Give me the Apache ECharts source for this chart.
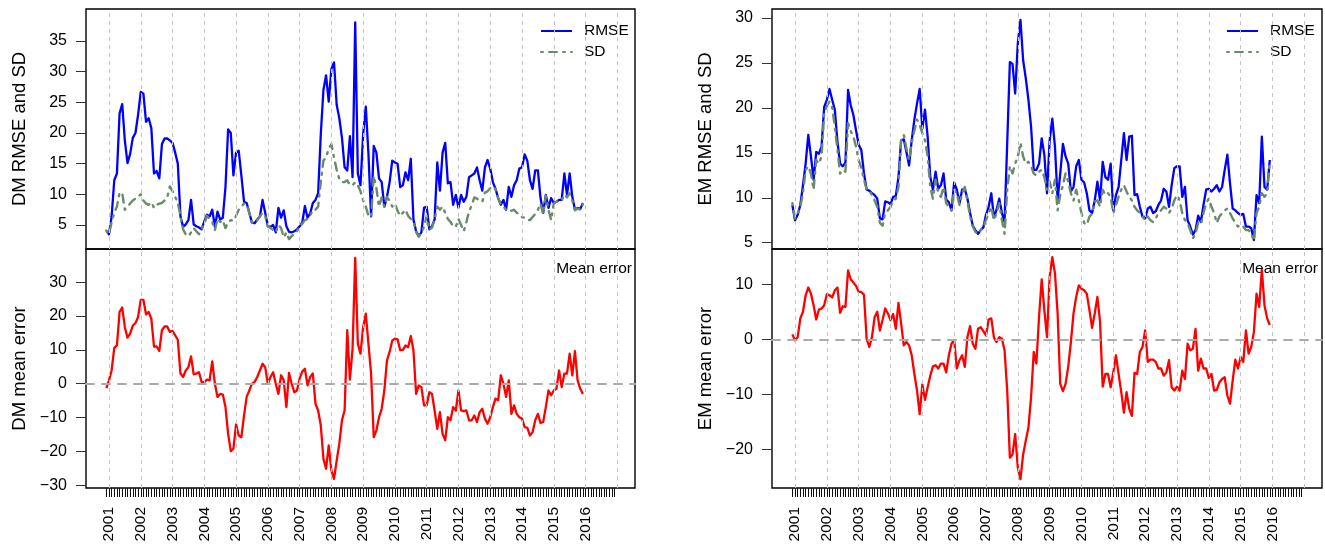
<!DOCTYPE html>
<html><head><meta charset="utf-8">
<script src="https://cdn.jsdelivr.net/npm/echarts@6/dist/echarts.min.js"></script>
<style>html,body{margin:0;padding:0;background:#fff}#c{width:1325px;height:547px}</style>
</head><body><div id="c"></div>
<script>
// Monthly observations (index 0 = first month shown)
const dmRmse = [4.1,3.5,6.4,12.3,13.4,23.2,24.7,18.7,15.1,16.6,
19.2,20.0,23.0,26.7,26.4,21.8,22.4,20.8,13.4,13.8,
12.6,18.2,19.1,19.1,18.8,18.4,16.8,15.0,6.4,4.7,
5.1,5.8,9.1,5.1,4.8,4.6,4.3,5.6,6.7,6.4,
7.5,4.7,7.2,5.9,6.2,11.2,20.6,20.0,13.1,16.8,
17.1,13.1,8.8,8.6,7.0,5.4,5.3,5.9,6.4,9.1,
7.0,4.8,4.7,5.0,3.8,7.8,6.2,7.4,4.8,3.9,
3.8,4.0,4.3,4.8,5.4,8.1,6.2,6.9,8.6,9.1,
10.2,19.8,27.0,29.4,25.1,30.4,31.5,24.6,22.4,19.2,
14.4,13.9,19.5,12.8,38.0,13.4,11.5,19.8,24.3,16.6,
6.4,17.9,16.8,12.6,12.0,8.0,9.6,12.0,15.5,15.2,
15.0,11.2,11.5,13.6,12.3,15.8,5.9,4.0,3.2,3.8,
7.8,8.0,4.3,4.8,5.9,15.2,10.6,16.8,18.4,11.8,
12.0,8.3,9.9,7.8,9.9,8.8,9.6,12.8,13.1,13.4,
14.4,12.3,10.6,14.4,15.6,14.2,12.0,10.9,9.4,8.3,
9.1,7.5,11.2,9.6,11.5,12.3,14.2,14.4,16.5,15.5,
12.3,10.9,13.9,13.9,9.4,7.0,9.9,7.8,9.4,8.6,
8.8,9.1,9.1,13.4,9.9,13.4,9.6,7.5,7.8,7.6,
8.6];
const dmSd = [4.1,3.5,5.5,7.0,8.0,10.3,10.2,7.5,8.0,8.5,
9.0,9.3,9.7,10.0,9.0,8.5,8.3,8.7,7.8,8.3,
8.5,8.6,9.0,9.5,11.3,10.5,9.6,8.6,6.5,4.3,
3.5,3.2,3.8,4.5,4.0,3.5,4.3,5.2,6.5,6.0,
5.5,4.2,6.0,5.5,5.8,4.5,5.5,5.8,5.7,6.5,
7.5,8.0,8.5,8.3,7.0,5.4,5.3,5.8,6.4,7.0,
6.5,4.8,4.5,4.2,3.8,5.0,4.5,3.0,3.8,2.7,
3.2,3.5,4.0,4.8,5.2,5.8,6.0,6.5,7.5,7.5,
8.0,12.0,15.5,16.0,17.5,18.2,16.0,14.0,12.5,12.0,
12.0,12.3,11.5,11.5,12.0,11.5,10.5,9.0,8.0,6.5,
6.3,13.0,11.0,8.0,9.5,8.0,9.6,9.0,8.0,8.5,
7.3,6.5,7.0,7.5,6.5,6.0,5.5,3.9,3.1,3.7,
4.7,6.5,4.2,4.6,5.9,8.0,7.5,8.0,7.0,6.0,
5.5,4.8,4.7,6.0,5.0,4.0,5.5,7.2,8.2,9.5,
9.3,9.0,8.8,10.3,10.5,11.0,11.3,10.8,9.4,8.3,
8.0,7.5,7.5,7.3,7.5,7.0,6.8,6.3,6.2,5.9,
5.8,6.3,6.8,7.5,8.5,6.8,9.8,7.5,5.8,8.5,
8.8,9.0,9.0,10.0,9.5,10.2,9.0,7.4,7.7,7.5,
8.4];
const dmMe = [-1.3,1.0,4.0,10.6,11.3,21.2,22.5,16.7,13.6,14.8,
17.2,17.9,19.7,24.8,24.8,20.5,21.2,19.2,11.0,11.0,
9.7,15.8,16.9,16.9,15.3,15.6,14.3,13.0,3.0,2.0,
3.9,4.9,8.1,2.8,3.0,3.4,0.5,0.5,1.2,1.0,
6.6,0.0,-3.9,-3.0,-3.2,-6.9,-14.8,-19.9,-19.2,-12.0,
-15.3,-15.8,-9.4,-3.9,-2.0,0.0,0.5,2.0,3.9,5.9,
4.9,0.0,2.0,3.4,0.0,-3.0,2.5,1.0,-6.9,3.2,
0.0,-2.5,-2.0,1.5,3.6,4.4,-0.5,2.0,3.0,-5.9,
-7.9,-12.3,-22.2,-25.1,-18.2,-25.6,-28.1,-22.7,-17.7,-10.8,
-7.9,15.8,1.2,10.3,37.2,11.8,8.9,16.7,20.7,11.8,
3.0,-15.8,-13.8,-9.9,-7.4,-2.0,6.9,9.4,12.8,13.3,
13.1,9.9,10.0,11.3,10.8,14.1,9.9,-3.0,-0.5,-1.0,
-6.4,-6.4,-2.5,-3.0,-7.9,-13.3,-8.4,-14.8,-16.7,-9.9,
-10.8,-6.9,-7.9,-2.0,-7.9,-8.1,-7.9,-10.8,-10.8,-9.4,
-11.3,-8.4,-7.4,-10.3,-11.8,-9.9,-6.9,-4.4,-4.9,2.5,
0.0,-3.9,1.0,-8.9,-6.4,-8.9,-9.9,-10.3,-12.8,-13.0,
-15.3,-14.3,-10.8,-8.9,-11.6,-11.3,-6.9,-2.0,-3.4,-2.0,
-1.5,3.9,-1.0,3.0,3.0,8.9,2.5,9.6,1.0,-1.5,
-3.0];
const emRmse = [9.2,7.5,8.1,9.2,11.4,13.8,17.0,14.6,12.0,15.1,
14.9,15.7,20.1,20.9,22.1,20.9,19.8,16.2,13.8,13.5,
13.9,22.0,20.3,19.2,17.5,15.9,15.3,12.7,10.9,10.8,
10.5,10.3,9.9,7.7,7.6,9.6,9.5,9.3,10.1,10.2,
12.3,16.4,16.5,15.1,13.6,16.4,18.7,20.5,22.1,17.7,
19.8,16.8,12.3,10.9,12.9,11.0,11.4,12.7,9.8,9.5,
8.6,11.7,10.9,9.4,10.9,11.0,9.9,8.3,6.9,6.4,
6.0,6.4,6.7,8.1,9.0,10.5,7.8,8.7,9.9,8.3,
7.3,16.1,25.1,24.9,21.6,27.2,29.8,25.3,23.3,20.9,
17.9,13.1,13.1,13.8,16.6,14.8,10.5,16.4,18.8,15.7,
9.8,12.7,16.0,14.6,13.8,10.7,11.2,13.5,14.2,12.0,
11.7,10.5,8.6,8.3,9.7,11.8,9.7,14.0,12.3,12.0,
13.8,8.6,10.3,11.2,14.2,17.2,14.2,16.8,16.9,10.3,
10.4,9.0,7.9,7.7,8.8,9.0,8.3,8.5,9.2,9.7,
11.0,10.7,9.0,11.4,13.3,13.5,13.5,10.1,11.2,7.5,
6.8,5.9,6.4,8.0,7.3,9.2,10.9,11.0,10.7,11.0,
11.4,10.7,11.2,13.1,14.8,11.6,8.8,8.6,8.3,8.1,
8.2,6.8,6.8,6.6,5.3,10.3,9.4,16.8,11.2,10.9,
14.2];
const emSd = [9.4,7.7,8.3,9.0,10.5,13.1,13.5,12.7,10.9,14.2,
13.8,14.6,19.4,20.2,20.7,20.1,17.9,15.3,12.7,13.1,
12.9,18.3,17.4,16.8,15.7,14.2,13.3,12.0,10.9,10.8,
10.3,9.7,9.0,7.2,6.9,8.3,8.6,9.0,9.7,9.9,
11.2,16.4,17.0,15.5,14.2,16.1,17.5,18.7,18.1,17.2,
16.4,14.6,11.2,9.9,12.0,10.5,10.1,11.2,9.4,9.0,
8.6,10.9,10.5,9.2,10.5,11.2,9.7,7.9,6.8,6.2,
6.0,6.4,6.7,7.5,8.3,9.0,7.5,8.3,9.4,7.5,
6.0,10.9,13.5,12.7,13.8,14.6,16.1,14.6,13.8,14.0,
13.5,12.7,12.5,12.9,13.1,12.3,10.9,11.8,10.5,12.0,
8.6,10.3,11.4,12.7,11.8,10.5,9.7,10.9,9.7,8.3,
7.2,7.0,7.9,8.2,9.6,9.7,9.0,10.9,10.3,10.5,
10.1,8.3,9.2,10.1,10.9,11.4,10.7,10.1,9.7,9.0,
8.6,8.3,7.9,7.5,7.9,7.5,7.3,7.7,8.3,8.6,
9.0,8.8,8.3,8.8,9.7,10.3,9.7,8.3,7.5,7.2,
6.4,5.5,6.0,7.2,7.0,8.3,9.4,9.9,9.0,8.3,
7.2,7.9,8.3,8.6,8.8,8.3,7.7,7.2,6.8,7.0,
6.8,6.4,6.4,6.0,5.2,8.3,9.0,10.5,10.1,10.5,
14.2];
const emMe = [0.9,-0.2,0.4,3.8,5.0,8.0,9.4,8.3,6.2,3.6,
5.4,5.6,6.2,8.2,8.0,7.6,8.9,9.4,4.8,6.0,
5.9,12.5,10.9,10.3,9.7,8.6,8.6,8.1,0.1,-1.4,
0.4,4.0,5.0,1.6,3.5,5.6,4.7,3.5,4.6,1.9,
6.6,2.9,-1.1,-0.5,-1.1,-2.9,-6.3,-9.3,-13.6,-8.2,
-11.0,-8.7,-6.6,-4.9,-4.7,-5.3,-4.4,-4.4,-6.0,-2.9,
-0.8,-0.1,-5.3,-3.8,-2.9,-5.0,0.4,2.4,-0.8,-1.7,
1.9,2.2,1.5,0.7,3.6,3.8,0.3,-0.5,0.4,0.1,
-2.0,-9.3,-21.5,-20.9,-17.2,-23.3,-25.4,-20.9,-18.4,-16.0,
-10.5,-2.3,-4.4,4.1,10.9,5.3,0.4,11.4,14.9,12.0,
4.7,-8.1,-9.4,-8.1,-5.0,-0.5,4.7,7.7,9.8,9.2,
8.9,8.3,5.3,2.1,4.7,7.7,3.2,-8.6,-6.3,-6.3,
-8.7,-6.0,-2.9,-6.3,-9.6,-13.3,-9.6,-12.6,-13.9,-6.1,
-6.3,-2.3,-1.4,1.6,-4.1,-3.7,-3.7,-4.1,-5.3,-5.3,
-6.6,-6.0,-3.8,-8.7,-9.3,-8.6,-9.3,-5.7,-7.2,-0.8,
-2.0,-1.7,1.9,-5.7,-3.5,-5.3,-5.3,-7.0,-6.3,-9.3,
-9.2,-7.8,-7.2,-6.9,-10.2,-11.7,-7.5,-3.7,-5.3,-3.2,
-4.1,1.6,-2.6,-1.4,1.3,8.3,5.9,12.6,6.2,3.8,
2.6];

const yearLabels = ['2001','2002','2003','2004','2005','2006','2007','2008','2009','2010','2011','2012','2013','2014','2015','2016'];
const gridYears = [2001,2002,2003,2004,2005,2006,2007,2008,2009,2010,2011,2012,2013,2014,2015,2016,2017];
const dmTopTicks = [5,10,15,20,25,30,35];
const dmBotTicks = [-30,-20,-10,0,10,20,30];
const emTopTicks = [5,10,15,20,25,30];
const emBotTicks = [-20,-10,0,10];

const FONT = '"Liberation Sans", Arial, Helvetica, sans-serif';
const yearPos = y => (y - 2001) * 12 + 1;
const yearPositions = yearLabels.map(s => yearPos(+s));
const monthTicks = []; for (let i = 0; i <= 192; i++) monthTicks.push(i);
const pairs = arr => arr.map((v, i) => [i, v]);
const X_MIN = -7.68, X_MAX = 199.68;

const grids = [
  {left: 86, top: 9, width: 549, height: 240},
  {left: 86, top: 249, width: 549, height: 239},
  {left: 772, top: 9, width: 550, height: 240},
  {left: 772, top: 249, width: 550, height: 239}
].map(g => Object.assign({show: true, borderColor: '#000', borderWidth: 1.4, backgroundColor: 'transparent', containLabel: false, outerBoundsMode: 'none'}, g));

function xAxis(gi, showLabels) {
  return {type: 'value', gridIndex: gi, min: X_MIN, max: X_MAX, position: 'bottom',
    axisLine: {show: false, onZero: false}, splitLine: {show: false},
    axisTick: {show: showLabels, customValues: monthTicks, length: 9, lineStyle: {color: '#111', width: 1}},
    axisLabel: {show: showLabels, customValues: yearPositions, rotate: 90, margin: 19, fontSize: 15.5,
      color: '#000', fontFamily: FONT, formatter: v => yearLabels[Math.round((v - 1) / 12)]}};
}
function yAxis(gi, min, max, ticks, name) {
  return {type: 'value', gridIndex: gi, min: min, max: max, position: 'left', name: name, nameLocation: 'middle',
    nameGap: 57, nameRotate: 90, nameMoveOverlap: false,
    nameTextStyle: {fontSize: 18.5, color: '#000', fontFamily: FONT},
    axisLine: {show: false, onZero: false}, splitLine: {show: false},
    axisTick: {show: true, customValues: ticks, length: 10, lineStyle: {color: '#333', width: 1}},
    axisLabel: {customValues: ticks, margin: 19, fontSize: 16, color: '#000', fontFamily: FONT,
      formatter: v => (v < 0 ? '\u2212' + Math.abs(v) : String(v))}};
}
function gridLines(ai, zero) {
  const s = [{type: 'line', xAxisIndex: ai, yAxisIndex: ai, data: [], silent: true, z: 1,
    markLine: {silent: true, symbol: ['none', 'none'], label: {show: false}, animation: false,
      lineStyle: {color: '#c4c4c4', type: [4, 4], width: 1},
      data: gridYears.map(y => ({xAxis: yearPos(y)}))}}];
  if (zero) s.push({type: 'line', xAxisIndex: ai, yAxisIndex: ai, data: [], silent: true, z: 1,
    markLine: {silent: true, symbol: ['none', 'none'], label: {show: false}, animation: false,
      lineStyle: {color: '#ababab', type: [8, 8], width: 2, cap: 'round'},
      data: [{yAxis: 0}]}});
  return s;
}
function lineSeries(name, ai, arr, style, z) {
  return {name: name, type: 'line', xAxisIndex: ai, yAxisIndex: ai, data: pairs(arr),
    showSymbol: false, symbol: 'none', z: z, lineStyle: style, itemStyle: {color: style.color}, silent: true};
}
const rmseStyle = {color: '#0000ff', width: 2.3, join: 'round'};
const sdStyle = {color: '#698b69', width: 2.4, type: [2, 6, 8, 6], cap: 'round', join: 'round'};
const meStyle = {color: '#ff0000', width: 2.3, join: 'round'};

const legendBase = {orient: 'vertical', top: 23, padding: 0, itemWidth: 31, itemHeight: 14, itemGap: 5,
  selectedMode: false, data: ['RMSE', 'SD'], itemStyle: {opacity: 0},
  textStyle: {fontSize: 15.5, fontFamily: FONT, color: '#000', padding: [0, 0, 0, 7]}};

const option = {
  animation: false,
  backgroundColor: '#fff',
  grid: grids,
  xAxis: [xAxis(0, false), xAxis(1, true), xAxis(2, false), xAxis(3, true)],
  yAxis: [
    yAxis(0, 1.1, 40.2, dmTopTicks, 'DM RMSE and SD'),
    yAxis(1, -30.8, 39.8, dmBotTicks, 'DM mean error'),
    yAxis(2, 4.3, 31.0, emTopTicks, 'EM RMSE and SD'),
    yAxis(3, -27.0, 16.4, emBotTicks, 'EM mean error')
  ],
  legend: [Object.assign({left: 540}, legendBase), Object.assign({left: 1226}, legendBase)],
  graphic: [
    {type: 'text', right: 693, top: 261, style: {text: 'Mean error', font: '15.5px ' + FONT, fill: '#000'}},
    {type: 'text', right: 7, top: 261, style: {text: 'Mean error', font: '15.5px ' + FONT, fill: '#000'}}
  ],
  series: [
    ...gridLines(0, false), ...gridLines(1, true), ...gridLines(2, false), ...gridLines(3, true),
    lineSeries('RMSE', 0, dmRmse, rmseStyle, 3),
    lineSeries('SD', 0, dmSd, sdStyle, 4),
    lineSeries('Mean error', 1, dmMe, meStyle, 3),
    lineSeries('RMSE', 2, emRmse, rmseStyle, 3),
    lineSeries('SD', 2, emSd, sdStyle, 4),
    lineSeries('Mean error', 3, emMe, meStyle, 3)
  ]
};
const chart = echarts.init(document.getElementById('c'), null, {renderer: 'canvas'});
chart.setOption(option);
</script>
</body></html>
